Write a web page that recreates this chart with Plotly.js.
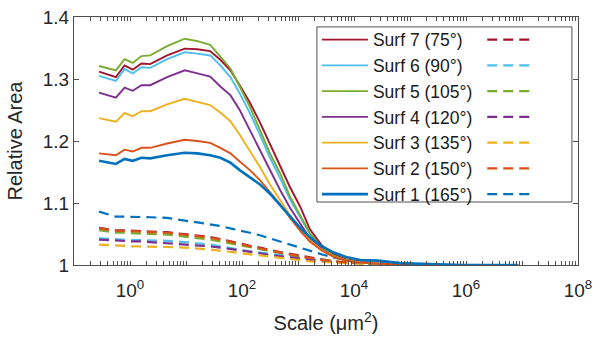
<!DOCTYPE html>
<html>
<head>
<meta charset="utf-8">
<script src="https://cdn.plot.ly/plotly-3.0.1.min.js"></script>
<style>html,body{margin:0;padding:0;background:#fff;}#chart{width:608px;height:338px;}</style>
</head>
<body>
<div id="chart"></div>
<script>
// Scale values (um^2), shared by all series
var scale = [0.28, 0.56, 0.8, 1.12, 1.6, 2.3, 4.6, 9.5, 16, 27, 41, 62, 91, 138, 209, 316, 479, 724, 1096, 1622, 2692, 4365, 7244, 12880, 26900, 66000, 229000, 776000, 2700000, 8500000];

var seriesNames = ['Surf 7 (75°)', 'Surf 6 (90°)', 'Surf 5 (105°)', 'Surf 4 (120°)', 'Surf 3 (135°)', 'Surf 2 (150°)', 'Surf 1 (165°)'];
var seriesColors = ['#A2142F', '#4DBEEE', '#77AC30', '#7E2F8E', '#EDB120', '#D95319', '#0072BD'];

// Solid curves
var surf7 = [1.312,1.303,1.322,1.315,1.325,1.324,1.338,1.349,1.348,1.345,1.331,1.314,1.290,1.262,1.230,1.195,1.160,1.125,1.094,1.058,1.031,1.017,1.009,1.005,1.002,1.001,1.000,1.000,1.000,1.000];
var surf6 = [1.305,1.297,1.316,1.309,1.319,1.318,1.332,1.343,1.341,1.338,1.322,1.303,1.277,1.245,1.210,1.173,1.140,1.105,1.077,1.050,1.027,1.014,1.007,1.004,1.002,1.001,1.000,1.000,1.000,1.000];
var surf5 = [1.321,1.314,1.332,1.326,1.337,1.338,1.353,1.365,1.361,1.355,1.336,1.317,1.288,1.255,1.218,1.180,1.148,1.110,1.080,1.052,1.028,1.015,1.008,1.004,1.002,1.001,1.000,1.000,1.000,1.000];
var surf4 = [1.278,1.270,1.286,1.281,1.290,1.290,1.303,1.314,1.309,1.304,1.288,1.274,1.250,1.218,1.185,1.153,1.121,1.092,1.066,1.043,1.025,1.013,1.007,1.004,1.002,1.001,1.000,1.000,1.000,1.000];
var surf3 = [1.237,1.231,1.245,1.240,1.248,1.248,1.259,1.268,1.263,1.258,1.246,1.232,1.210,1.185,1.158,1.130,1.105,1.080,1.058,1.040,1.024,1.013,1.007,1.004,1.002,1.001,1.000,1.000,1.000,1.000];
var surf2 = [1.180,1.177,1.186,1.183,1.189,1.189,1.196,1.202,1.200,1.197,1.189,1.180,1.167,1.153,1.137,1.118,1.098,1.076,1.055,1.038,1.023,1.013,1.007,1.004,1.002,1.001,1.000,1.000,1.000,1.000];
var surf1 = [1.168,1.163,1.171,1.168,1.173,1.172,1.177,1.181,1.180,1.177,1.173,1.165,1.153,1.142,1.130,1.115,1.097,1.078,1.060,1.045,1.030,1.020,1.013,1.008,1.007,1.003,1.001,1.000,1.000,1.000];

// Dashed curves
var surf7d = [1.060,1.056,1.056,1.055,1.055,1.054,1.053,1.050,1.048,1.045,1.042,1.038,1.035,1.031,1.028,1.024,1.021,1.018,1.015,1.012,1.009,1.006,1.004,1.003,1.002,1.001,1.000,1.000,1.000,1.000];
var surf6d = [1.043,1.041,1.041,1.040,1.040,1.040,1.039,1.037,1.035,1.033,1.030,1.028,1.025,1.022,1.020,1.017,1.015,1.013,1.011,1.009,1.007,1.005,1.004,1.003,1.002,1.001,1.000,1.000,1.000,1.000];
var surf5d = [1.056,1.052,1.052,1.051,1.051,1.050,1.049,1.046,1.044,1.041,1.038,1.035,1.032,1.028,1.025,1.022,1.019,1.016,1.013,1.010,1.008,1.006,1.004,1.003,1.002,1.001,1.000,1.000,1.000,1.000];
var surf4d = [1.041,1.039,1.039,1.038,1.038,1.037,1.036,1.034,1.032,1.030,1.028,1.026,1.024,1.021,1.019,1.016,1.014,1.012,1.010,1.008,1.006,1.005,1.004,1.003,1.002,1.001,1.000,1.000,1.000,1.000];
var surf3d = [1.033,1.031,1.031,1.030,1.030,1.030,1.029,1.028,1.027,1.025,1.023,1.021,1.019,1.017,1.015,1.013,1.011,1.009,1.008,1.006,1.005,1.004,1.003,1.002,1.001,1.000,1.000,1.000,1.000,1.000];
var surf2d = [1.059,1.055,1.055,1.054,1.054,1.053,1.052,1.049,1.047,1.044,1.041,1.037,1.034,1.030,1.027,1.023,1.020,1.017,1.014,1.011,1.008,1.006,1.004,1.003,1.002,1.001,1.000,1.000,1.000,1.000];
var surf1d = [1.086,1.078,1.078,1.078,1.078,1.077,1.076,1.072,1.069,1.066,1.063,1.059,1.056,1.052,1.048,1.043,1.038,1.033,1.027,1.022,1.017,1.012,1.008,1.005,1.003,1.001,1.000,1.000,1.000,1.000];

var yTickVals = [1, 1.1, 1.2, 1.3, 1.4];
var yTickText = ['1', '1.1', '1.2', '1.3', '1.4'];
var xLabelVals = [1, 100, 10000, 1000000, 100000000];
var xLabelText = ['10<sup>0</sup>', '10<sup>2</sup>', '10<sup>4</sup>', '10<sup>6</sup>', '10<sup>8</sup>'];

// tick positions: 1..9 within each decade from 10^-1 up to 10^8; only even decades labelled
var xTickVals = [], xTickText = [];
for (var e = -1; e <= 8; e++) {
  for (var m = 1; m <= 9; m++) {
    if (e === 8 && m > 1) break;
    var v = m * Math.pow(10, e);
    xTickVals.push(v);
    var k = (m === 1) ? xLabelVals.indexOf(Math.pow(10, e)) : -1;
    xTickText.push(k >= 0 ? xLabelText[k] : '');
  }
}

var solid = [surf7, surf6, surf5, surf4, surf3, surf2, surf1];
var dashed = [surf7d, surf6d, surf5d, surf4d, surf3d, surf2d, surf1d];

var traces = [];
for (var j = 0; j < 7; j++) {
  traces.push({
    x: scale, y: dashed[j], type: 'scatter', mode: 'lines',
    name: ' ', legend: 'legend2',
    line: {color: seriesColors[j], width: 2.2, dash: '10px,6px'}
  });
}
for (var i = 0; i < 7; i++) {
  traces.push({
    x: scale, y: solid[i], type: 'scatter', mode: 'lines',
    name: seriesNames[i], legend: 'legend',
    line: {color: seriesColors[i], width: i === 6 ? 2.6 : 1.9}
  });
}

var axisColor = '#505050';
var layout = {
  width: 608, height: 338,
  margin: {l: 74, r: 30, t: 17, b: 73},
  paper_bgcolor: '#fff', plot_bgcolor: '#fff',
  font: {family: 'Liberation Sans, Arial, sans-serif', size: 18, color: '#262626'},
  showlegend: true,
  xaxis: {
    type: 'log', range: [-1, 8], tickmode: 'array', tickvals: xTickVals, ticktext: xTickText,
    showgrid: false, zeroline: false,
    showline: true, linecolor: axisColor, linewidth: 1, mirror: 'ticks',
    ticks: 'inside', ticklen: 4, tickcolor: axisColor,
    ticklabelstandoff: 8,
    tickfont: {size: 19, color: '#262626'},
    title: {text: 'Scale (μm<sup>2</sup>)', font: {size: 20, color: '#262626'}, standoff: 16}
  },
  yaxis: {
    range: [1, 1.4], tickvals: yTickVals, ticktext: yTickText,
    showgrid: false, zeroline: false,
    showline: true, linecolor: axisColor, linewidth: 1, mirror: 'ticks',
    ticks: 'inside', ticklen: 5, tickcolor: axisColor,
    tickfont: {size: 19, color: '#262626'},
    title: {text: 'Relative Area', font: {size: 20, color: '#262626'}, standoff: 14}
  },
  legend: {
    x: 0.482, y: 0.981, xanchor: 'left', yanchor: 'top',
    bgcolor: 'rgba(0,0,0,0)', borderwidth: 0,
    font: {size: 17.5, color: '#1a1a1a'}, itemwidth: 46, tracegroupgap: 0,
    traceorder: 'normal'
  },
  legend2: {
    x: 0.81, y: 0.981, xanchor: 'left', yanchor: 'top',
    bgcolor: 'rgba(0,0,0,0)', borderwidth: 0,
    font: {size: 17.5, color: '#1a1a1a'}, itemwidth: 46, tracegroupgap: 0,
    traceorder: 'normal'
  },
  shapes: [{
    type: 'rect', xref: 'paper', yref: 'paper',
    x0: 0.482, x1: 0.988, y0: 0.254, y1: 0.96,
    line: {color: '#505050', width: 1}, fillcolor: '#ffffff', layer: 'above'
  }]
};

Plotly.newPlot('chart', traces, layout, {staticPlot: true, displayModeBar: false});
</script>
</body>
</html>
